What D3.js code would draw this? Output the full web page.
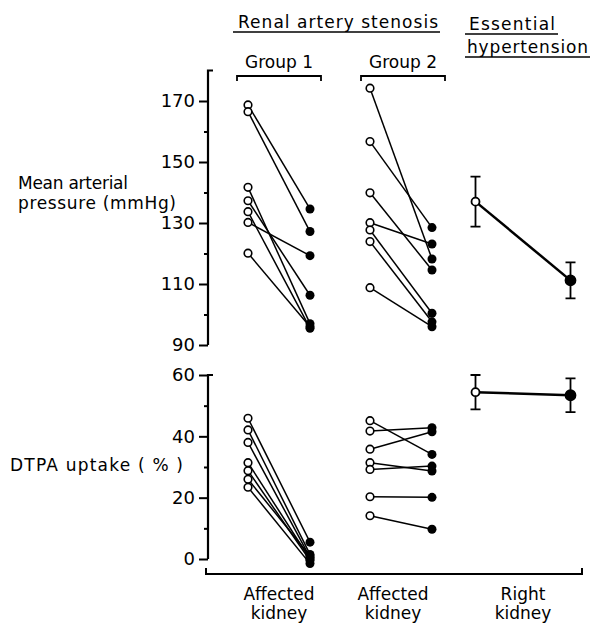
<!DOCTYPE html>
<html>
<head>
<meta charset="utf-8">
<script src="https://cdn.jsdelivr.net/npm/d3@7"></script>
<style>
body { margin: 0; background: #fff; }
text { font-family: "DejaVu Sans", sans-serif; fill: #000; }
</style>
</head>
<body>
<script>
(function(d3) {
	var width = 593;
	var height = 624;

	// groups along the x axis
	var groups = ["Group 1", "Group 2", "Essential"];
	var xLabels = [["Affected", "kidney"], ["Affected", "kidney"], ["Right", "kidney"]];

	// mean arterial pressure (mmHg): before (open) and after (filled)
	var grp1MapBefore = [168.7, 166.5, 141.7, 137.3, 133.7, 130.2, 120.1];
	var grp1MapAfter = [134.6, 127.2, 97.0, 106.3, 95.5, 119.3, 96.0];
	var grp2MapBefore = [174.2, 156.7, 139.9, 130.1, 127.7, 123.9, 108.8];
	var grp2MapAfter = [118.2, 128.5, 114.6, 123.1, 100.4, 97.6, 96.0];

	// DTPA uptake (%)
	var grp1DtpaBefore = [45.9, 42.1, 38.0, 31.4, 28.8, 26.0, 23.4];
	var grp1DtpaAfter = [5.5, 1.5, 0.5, 0.0, -0.5, 1.0, -1.5];
	var grp2DtpaBefore = [45.1, 41.7, 35.8, 31.4, 29.2, 20.3, 14.1];
	var grp2DtpaAfter = [34.1, 42.8, 41.5, 28.7, 30.3, 20.1, 9.7];

	// essential hypertension: mean and error
	var essMap = [137.0, 111.2];
	var essMapErr = [8.2, 5.9];
	var essDtpa = [54.4, 53.4];
	var essDtpaErr = [5.6, 5.5];

	var mapTicks = [90, 110, 130, 150, 170];
	var mapMinor = [100, 120, 140, 160];
	var dtpaTicks = [0, 20, 40, 60];
	var dtpaMinor = [10, 30, 50];

	var svg = d3.select("body").append("svg")
		.attr("width", width)
		.attr("height", height);

	var x = d3.scalePoint().domain(groups).range([279, 523]);
	var spread = d3.scaleOrdinal().domain(groups).range([31, 31, 47.5]);
	function xp(g, i) { return x(g) + (i === 0 ? -1 : 1) * spread(g); }

	var yMap = d3.scaleLinear().domain([90, 180]).range([345, 70.5]);
	var yDtpa = d3.scaleLinear().domain([0, 60]).range([559, 375]);

	var axisX = 208;

	function drawAxis(scale, ticks, minor, top) {
		var g = svg.append("g").attr("transform", "translate(" + axisX + ",0)");
		g.call(d3.axisLeft(scale).tickValues(ticks).tickSize(9).tickPadding(4).tickFormat(d3.format("d")));
		g.select(".domain").remove();
		g.selectAll(".tick line").attr("stroke", "#000").attr("stroke-width", 2);
		g.selectAll(".tick text").style("font-size", "18px").attr("fill", "#000");
		g.append("g").call(d3.axisLeft(scale).tickValues(minor).tickSize(4).tickFormat(""))
			.call(function(s) { s.select(".domain").remove(); })
			.selectAll(".tick line").attr("stroke", "#000").attr("stroke-width", 2);
		var d = scale.domain();
		g.append("path")
			.attr("d", "M5," + scale(top) + "H0V" + scale(d[0]))
			.attr("fill", "none").attr("stroke", "#000").attr("stroke-width", 2.2);
	}

	drawAxis(yMap, mapTicks, mapMinor, 180);
	drawAxis(yDtpa, dtpaTicks, dtpaMinor, 60);

	// bottom bracket
	svg.append("path")
		.attr("d", "M206,568V574H582V568")
		.attr("fill", "none").attr("stroke", "#000").attr("stroke-width", 2);

	// text helper: widths stretched a little to match the original lettering
	function label(txt, xx, yy, anchor, len) {
		var t = svg.append("text").attr("x", xx).attr("y", yy)
			.attr("text-anchor", anchor).style("font-size", "17px").text(txt);
		if (len) t.attr("textLength", len).attr("lengthAdjust", "spacing");
		return t;
	}

	// x labels
	xLabels.forEach(function(lbl, i) {
		lbl.forEach(function(s, j) {
			label(s, x(groups[i]) - (i === 1 ? 8 : 0), 600 + j * 19, "middle");
		});
	});

	function drawPairs(g, before, after, y) {
		var pairs = d3.zip(before, after);
		svg.append("g").selectAll("line").data(pairs).join("line")
			.attr("x1", xp(g, 0)).attr("x2", xp(g, 1))
			.attr("y1", function(d) { return y(d[0]); })
			.attr("y2", function(d) { return y(d[1]); })
			.attr("stroke", "#000").attr("stroke-width", 1.5);
		svg.append("g").selectAll("circle").data(after).join("circle")
			.attr("cx", xp(g, 1)).attr("cy", function(d) { return y(d); })
			.attr("r", 4.5).attr("fill", "#000");
		svg.append("g").selectAll("circle").data(before).join("circle")
			.attr("cx", xp(g, 0)).attr("cy", function(d) { return y(d); })
			.attr("r", 3.8).attr("fill", "#fff").attr("stroke", "#000").attr("stroke-width", 1.6);
	}

	drawPairs("Group 1", grp1MapBefore, grp1MapAfter, yMap);
	drawPairs("Group 2", grp2MapBefore, grp2MapAfter, yMap);
	drawPairs("Group 1", grp1DtpaBefore, grp1DtpaAfter, yDtpa);
	drawPairs("Group 2", grp2DtpaBefore, grp2DtpaAfter, yDtpa);

	function drawMean(means, errs, y) {
		var g = svg.append("g");
		var pts = means.map(function(m, i) { return {x: xp("Essential", i), m: m, e: errs[i], i: i}; });
		g.append("line")
			.attr("x1", pts[0].x).attr("x2", pts[1].x)
			.attr("y1", y(pts[0].m)).attr("y2", y(pts[1].m))
			.attr("stroke", "#000").attr("stroke-width", 2.5);
		g.selectAll(".eb").data(pts).join("path")
			.attr("d", function(d) {
				var t = y(d.m + d.e), b = y(d.m - d.e);
				return "M" + (d.x - 5) + "," + t + "H" + (d.x + 5) + "M" + d.x + "," + t + "V" + b +
					"M" + (d.x - 5) + "," + b + "H" + (d.x + 5);
			})
			.attr("fill", "none").attr("stroke", "#000").attr("stroke-width", 1.8);
		g.selectAll("circle").data(pts).join("circle")
			.attr("cx", function(d) { return d.x; })
			.attr("cy", function(d) { return y(d.m); })
			.attr("r", function(d) { return d.i === 0 ? 4 : 5; })
			.attr("fill", function(d) { return d.i === 0 ? "#fff" : "#000"; })
			.attr("stroke", "#000").attr("stroke-width", 1.8);
	}

	drawMean(essMap, essMapErr, yMap);
	drawMean(essDtpa, essDtpaErr, yDtpa);

	// headings
	function rule(x1, x2, yy) {
		svg.append("line").attr("x1", x1).attr("x2", x2).attr("y1", yy).attr("y2", yy)
			.attr("stroke", "#000").attr("stroke-width", 1.5);
	}
	label("Renal artery stenosis", 338, 28, "middle", 200);
	rule(233, 440, 32);
	label("Essential", 469, 30, "start", 86);
	rule(465, 558, 34);
	label("hypertension", 467, 53, "start", 121);
	rule(465, 590, 57);

	groups.slice(0, 2).forEach(function(g) {
		var cx = x(g) + (g === "Group 2" ? 2 : 0);
		label(g, cx, 68, "middle");
		svg.append("path")
			.attr("d", "M" + (cx - 42) + ",81V76H" + (cx + 42) + "V81")
			.attr("fill", "none").attr("stroke", "#000").attr("stroke-width", 1.8);
	});

	// y titles
	label("Mean arterial", 18, 189, "start", 110);
	label("pressure (mmHg)", 18, 209, "start", 158);
	label("DTPA uptake ( % )", 10, 471, "start", 173);

})(d3);
</script>
</body>
</html>
